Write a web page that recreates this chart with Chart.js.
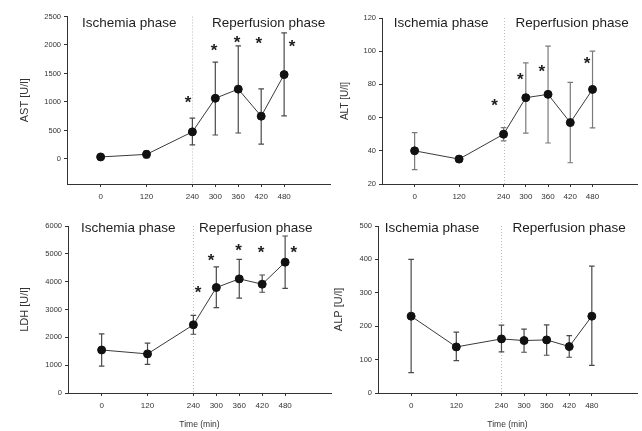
<!DOCTYPE html>
<html>
<head>
<meta charset="utf-8">
<script src="https://cdn.jsdelivr.net/npm/chart.js@4.4.1/dist/chart.umd.min.js"></script>
<style>
html, body { margin: 0; padding: 0; background: #fff; }
#wrap { position: relative; width: 642px; height: 431px; overflow: hidden; background: #fff; }
#wrap canvas { position: absolute; }
</style>
</head>
<body>
<div id="wrap">
  <canvas id="c1"></canvas>
  <canvas id="c2"></canvas>
  <canvas id="c3"></canvas>
  <canvas id="c4"></canvas>
</div>
<script>
// --- DATA ---
const times = [0, 120, 240, 300, 360, 420, 480];
const xTicks = [0, 120, 240, 300, 360, 420, 480];

// AST
const astMean = [35, 80, 475, 1065, 1225, 750, 1480];
const astLow  = [20, 20, 245, 420, 455, 260, 755];
const astHigh = [50, 140, 718, 1700, 1985, 1230, 2212];
const astTicks = [0, 500, 1000, 1500, 2000, 2500];
const astStarX = [229, 297, 357, 414, 501];
const astStarY = [1069, 1982, 2122, 2105, 2053];

// ALT
const altMean = [40, 35, 50, 72, 74, 57, 77];
const altLow  = [28.6, 33.3, 46, 50.7, 44.7, 32.8, 53.8];
const altHigh = [51, 36.6, 54, 93, 103, 81.2, 100];
const altTicks = [20, 40, 60, 80, 100, 120];
const altStarX = [216, 285, 343, 465];
const altStarY = [70, 85.7, 90.5, 95.3];

// LDH
const ldhMean = [1545, 1405, 2450, 3790, 4100, 3910, 4700];
const ldhLow  = [965, 1030, 2110, 3070, 3410, 3620, 3760];
const ldhHigh = [2125, 1790, 2790, 4530, 4800, 4240, 5640];
const ldhTicks = [0, 1000, 2000, 3000, 4000, 5000, 6000];
const ldhStarX = [252, 286, 358, 417, 503];
const ldhStarY = [3770, 4920, 5280, 5210, 5210];

// ALP
const alpMean = [230, 138, 162, 157, 159, 139, 230];
const alpLow  = [61, 97, 123, 122, 113, 107, 83];
const alpHigh = [400, 182, 203, 191, 204, 172, 380];
const alpTicks = [0, 100, 200, 300, 400, 500];

const phaseLabels = ['Ischemia phase', 'Reperfusion phase'];

// --- PANEL BUILDER ---
const FONT = '"Liberation Sans", Arial, sans-serif';

function overlay(p) {
    return {
        id: 'overlay_' + p.id,
        beforeDatasetsDraw(chart) {
            const { ctx, chartArea: a, scales: { x, y } } = chart;
            ctx.save();
            // dotted separator at 240 min
            const xv = Math.round(x.getPixelForValue(240)) + 0.5;
            ctx.strokeStyle = '#bdbdbd';
            ctx.lineWidth = 1;
            ctx.setLineDash([1, 2]);
            ctx.beginPath();
            ctx.moveTo(xv, a.top);
            ctx.lineTo(xv, a.bottom);
            ctx.stroke();
            ctx.setLineDash([]);
            // error bars
            ctx.strokeStyle = p.errColor;
            ctx.lineWidth = 1.2;
            times.forEach((t, i) => {
                const px = x.getPixelForValue(t);
                const y1 = y.getPixelForValue(p.low[i]);
                const y2 = y.getPixelForValue(p.high[i]);
                ctx.beginPath();
                ctx.moveTo(px, y1); ctx.lineTo(px, y2);
                ctx.moveTo(px - 2.8, y1); ctx.lineTo(px + 2.8, y1);
                ctx.moveTo(px - 2.8, y2); ctx.lineTo(px + 2.8, y2);
                ctx.stroke();
            });
            ctx.restore();
        },
        afterDatasetsDraw(chart) {
            const { ctx, chartArea: a, scales: { x, y } } = chart;
            ctx.save();
            // phase labels
            ctx.fillStyle = '#1e1e1e';
            ctx.font = '13.5px ' + FONT;
            ctx.textAlign = 'left';
            ctx.textBaseline = 'middle';
            phaseLabels.forEach((txt, i) => {
                ctx.fillText(txt, x.getPixelForValue(p.labelX[i]), a.top + p.labelDy);
            });
            // significance stars
            ctx.font = 'bold 17px ' + FONT;
            ctx.textAlign = 'center';
            ctx.textBaseline = 'alphabetic';
            (p.starX || []).forEach((sx, i) => {
                ctx.fillText('*', x.getPixelForValue(sx), y.getPixelForValue(p.starY[i]) + 10);
            });
            ctx.restore();
        }
    };
}

function makePanel(p) {
    const cv = document.getElementById(p.id);
    cv.width = p.w; cv.height = p.h;
    cv.style.left = p.left + 'px';
    cv.style.top = p.top + 'px';
    cv.style.width = p.w + 'px';
    cv.style.height = p.h + 'px';

    const pts = times.map((t, i) => ({ x: t, y: p.mean[i] }));

    new Chart(cv, {
        type: 'line',
        data: {
            datasets: [{
                data: pts,
                borderColor: '#3a3a3a',
                borderWidth: 1,
                pointRadius: 4,
                pointBackgroundColor: '#111',
                pointBorderColor: '#111',
                pointBorderWidth: 1,
                tension: 0,
                fill: false
            }]
        },
        options: {
            responsive: false,
            animation: false,
            devicePixelRatio: 1,
            layout: { padding: p.pad },
            plugins: { legend: { display: false }, tooltip: { enabled: false } },
            scales: {
                x: {
                    type: 'linear',
                    min: -88, max: 600,
                    afterBuildTicks: s => { s.ticks = xTicks.map(v => ({ value: v })); },
                    afterFit: s => { s.height = p.xH; },
                    grid: { drawOnChartArea: false, drawTicks: true, tickLength: 3, color: '#333' },
                    border: { display: true, color: '#333', width: 1 },
                    ticks: {
                        font: { family: FONT, size: 8 }, color: '#333', padding: 5,
                        autoSkip: false, maxRotation: 0, callback: v => String(v)
                    },
                    title: p.xTitle ? {
                        display: true, text: 'Time (min)', color: '#333',
                        font: { family: FONT, size: 8.5 }, padding: { top: 0, bottom: 1 }
                    } : { display: false }
                },
                y: {
                    type: 'linear',
                    min: p.yMin, max: p.yMax,
                    afterBuildTicks: s => { s.ticks = p.yTicks.map(v => ({ value: v })); },
                    afterFit: s => { s.width = p.yW; },
                    grid: { drawOnChartArea: false, drawTicks: true, tickLength: 3, color: '#333' },
                    border: { display: true, color: '#333', width: 1 },
                    ticks: {
                        font: { family: FONT, size: 7.5 }, color: '#333', padding: 3,
                        callback: v => String(v)
                    },
                    title: {
                        display: true, text: p.yTitle, color: '#333',
                        font: { family: FONT, size: p.yTitleSize }, padding: { top: p.yTitlePad, bottom: 0 }
                    }
                }
            }
        },
        plugins: [overlay(p)]
    });
}

makePanel({
    id: 'c1', left: 0, top: 0, w: 340, h: 215,
    pad: { left: 0, right: 10, top: 16.5, bottom: 0 }, yW: 67, xH: 31,
    mean: astMean, low: astLow, high: astHigh, yMin: -440, yMax: 2500, yTicks: astTicks,
    yTitle: 'AST [U/l]', yTitleSize: 11, yTitlePad: 18,
    errColor: '#4a4a4a', starX: astStarX, starY: astStarY,
    labelX: [-49, 291], labelDy: 6.5, xTitle: false
});

makePanel({
    id: 'c2', left: 330, top: 0, w: 312, h: 215,
    pad: { left: 0, right: 0, top: 18, bottom: 0 }, yW: 52, xH: 31,
    mean: altMean, low: altLow, high: altHigh, yMin: 20, yMax: 120, yTicks: altTicks,
    yTitle: 'ALT [U/l]', yTitleSize: 10, yTitlePad: 9.5,
    errColor: '#7a7a7a', starX: altStarX, starY: altStarY,
    labelX: [-56, 272], labelDy: 5.3, xTitle: false
});

makePanel({
    id: 'c3', left: 0, top: 215, w: 340, h: 216,
    pad: { left: 0, right: 9, top: 11, bottom: 0 }, yW: 68, xH: 38,
    mean: ldhMean, low: ldhLow, high: ldhHigh, yMin: 0, yMax: 6000, yTicks: ldhTicks,
    yTitle: 'LDH [U/l]', yTitleSize: 11, yTitlePad: 18,
    errColor: '#4a4a4a', starX: ldhStarX, starY: ldhStarY,
    labelX: [-54, 255], labelDy: 2.3, xTitle: true
});

makePanel({
    id: 'c4', left: 330, top: 215, w: 312, h: 216,
    pad: { left: 0, right: 0, top: 11, bottom: 0 }, yW: 48, xH: 38,
    mean: alpMean, low: alpLow, high: alpHigh, yMin: 0, yMax: 500, yTicks: alpTicks,
    yTitle: 'ALP [U/l]', yTitleSize: 11, yTitlePad: 2.5,
    errColor: '#4a4a4a', starX: [], starY: [],
    labelX: [-70, 269], labelDy: 2, xTitle: true
});
</script>
</body>
</html>
